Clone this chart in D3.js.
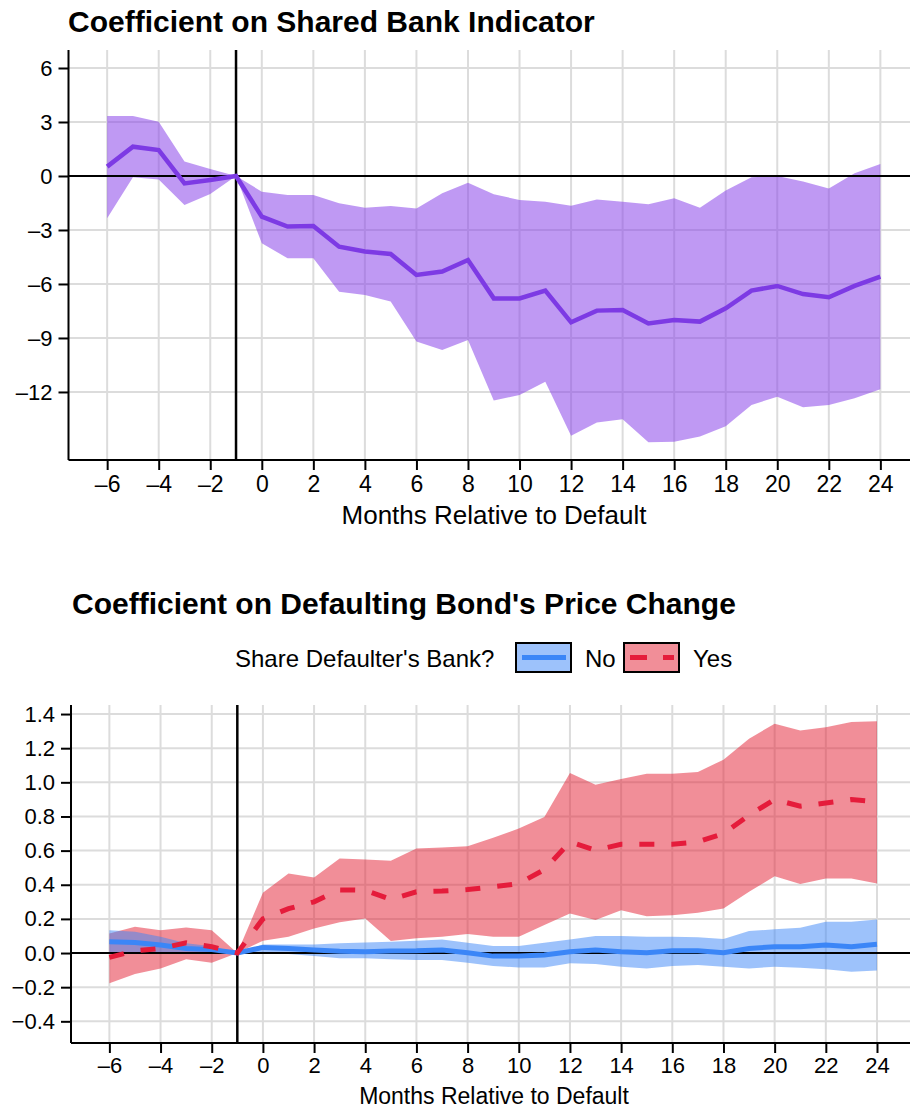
<!DOCTYPE html>
<html>
<head>
<meta charset="utf-8">
<script src="https://cdn.jsdelivr.net/npm/d3@7/dist/d3.min.js"></script>
<style>
  body { margin: 0; background: #fff; }
  svg { display: block; font-family: "Liberation Sans", Arial, sans-serif; }
</style>
</head>
<body>
<svg id="chart" width="910" height="1109"></svg>
<script>
// Months relative to default (x categories)
const months = [-6, -5, -4, -3, -2, -1, 0, 1, 2, 3, 4, 5, 6, 7, 8, 9, 10, 11, 12,
  13, 14, 15, 16, 17, 18, 19, 20, 21, 22, 23, 24];
const xTicks = [-6, -4, -2, 0, 2, 4, 6, 8, 10, 12, 14, 16, 18, 20, 22, 24];

// Panel 1: coefficient on shared bank indicator
const sharedEst = [0.52, 1.63, 1.44, -0.41, -0.22, 0, -2.26, -2.81, -2.78, -3.93, -4.2,
  -4.33, -5.5, -5.31, -4.67, -6.8, -6.8, -6.37, -8.13, -7.48, -7.44, -8.19, -8.0,
  -8.09, -7.35, -6.37, -6.11, -6.56, -6.74, -6.11, -5.59];
const sharedHi = [3.33, 3.33, 3.02, 0.8, 0.39, 0, -0.87, -1.06, -1.06, -1.52, -1.76,
  -1.67, -1.8, -0.96, -0.37, -1.02, -1.33, -1.43, -1.65, -1.3, -1.43, -1.57, -1.24,
  -1.76, -0.81, -0.07, 0.0, -0.31, -0.69, 0.15, 0.67];
const sharedLo = [-2.35, -0.07, -0.19, -1.61, -1.0, 0, -3.74, -4.57, -4.57, -6.43, -6.61,
  -6.98, -9.2, -9.67, -9.11, -12.48, -12.17, -11.43, -14.43, -13.7, -13.52, -14.8,
  -14.76, -14.48, -13.9, -12.72, -12.26, -12.85, -12.72, -12.35, -11.85];
const sharedTicks = [6, 3, 0, -3, -6, -9, -12];

// Panel 2: coefficient on defaulting bond's price change, by shared bank
const noEst = [0.066, 0.062, 0.047, 0.027, 0.02, 0, 0.033, 0.027, 0.018, 0.01, 0.008,
  0.012, 0.013, 0.018, 0.002, -0.018, -0.018, -0.012, 0.008, 0.018, 0.008, 0.002,
  0.013, 0.013, 0.002, 0.027, 0.037, 0.037, 0.047, 0.037, 0.051];
const noHi = [0.134, 0.125, 0.095, 0.057, 0.04, 0, 0.05, 0.05, 0.05, 0.057, 0.062,
  0.066, 0.072, 0.08, 0.06, 0.041, 0.041, 0.06, 0.08, 0.1, 0.1, 0.095, 0.095,
  0.092, 0.082, 0.129, 0.139, 0.148, 0.183, 0.183, 0.197];
const noLo = [0.0, 0.0, 0.0, -0.005, 0.0, 0, 0.0, -0.005, -0.018, -0.031, -0.031,
  -0.037, -0.041, -0.041, -0.057, -0.076, -0.084, -0.084, -0.06, -0.064, -0.08,
  -0.09, -0.076, -0.07, -0.08, -0.09, -0.08, -0.086, -0.095, -0.109, -0.103];
const yesEst = [-0.025, 0.013, 0.027, 0.06, 0.037, 0, 0.2, 0.26, 0.3, 0.37, 0.368,
  0.314, 0.359, 0.363, 0.372, 0.388, 0.407, 0.489, 0.651, 0.602, 0.637, 0.637,
  0.637, 0.651, 0.7, 0.807, 0.9, 0.86, 0.879, 0.899, 0.885];
const yesHi = [0.115, 0.154, 0.134, 0.15, 0.134, 0, 0.353, 0.466, 0.443, 0.554, 0.548,
  0.54, 0.612, 0.618, 0.626, 0.676, 0.729, 0.797, 1.054, 0.986, 1.02, 1.05, 1.05,
  1.06, 1.133, 1.256, 1.343, 1.304, 1.323, 1.353, 1.358];
const yesLo = [-0.177, -0.123, -0.09, -0.037, -0.057, 0, 0.072, 0.095, 0.144, 0.18,
  0.203, 0.07, 0.086, 0.095, 0.111, 0.095, 0.095, 0.164, 0.232, 0.193, 0.251, 0.216,
  0.222, 0.236, 0.261, 0.359, 0.45, 0.404, 0.437, 0.437, 0.408];
const priceTicks = [1.4, 1.2, 1.0, 0.8, 0.6, 0.4, 0.2, 0.0, -0.2, -0.4];

const legendLabels = ['No', 'Yes'];

const colors = {
  purpleLine: '#7d3ae4',
  purpleBand: 'rgba(139, 69, 234, 0.55)',
  blueLine: '#3b86f7',
  blueBand: 'rgba(59, 134, 247, 0.5)',
  redLine: '#e51c3b',
  redBand: 'rgba(228, 30, 50, 0.5)',
  grid: '#dcdcdc'
};

const svg = d3.select('#chart');
const minus = s => String(s).replace('-', '\u2013');

/**
 * Draw a panel frame: grid, axes, reference lines. Returns scales + layers.
 */
function drawFrame(cfg) {
  const x = d3.scaleLinear().domain([-7.5, cfg.xMax]).range([cfg.left, 910]);
  const y = d3.scaleLinear().domain(cfg.yDomain).range([cfg.bottom, cfg.top]);
  const g = svg.append('g');

  // gridlines
  g.selectAll('.vgrid').data(xTicks).enter().append('line')
    .attr('x1', d => x(d)).attr('x2', d => x(d))
    .attr('y1', cfg.top).attr('y2', cfg.bottom)
    .style('stroke', colors.grid).style('stroke-width', '2px');
  g.selectAll('.hgrid').data(cfg.yTicks.filter(d => d !== 0)).enter().append('line')
    .attr('x1', cfg.left).attr('x2', 910)
    .attr('y1', d => y(d)).attr('y2', d => y(d))
    .style('stroke', colors.grid).style('stroke-width', '2px');

  const layer = g.append('g');

  // zero line and default month marker
  g.append('line')
    .attr('x1', cfg.left).attr('x2', 910)
    .attr('y1', y(0)).attr('y2', y(0))
    .style('stroke', '#000').style('stroke-width', '2px');
  g.append('line')
    .attr('x1', x(-1)).attr('x2', x(-1))
    .attr('y1', cfg.top).attr('y2', cfg.bottom)
    .style('stroke', '#000').style('stroke-width', '2.5px');

  const lineLayer = g.append('g');

  // axes
  const xAxis = g.append('g')
    .attr('transform', `translate(0,${cfg.bottom})`)
    .call(d3.axisBottom(x).tickValues(xTicks).tickSize(10).tickPadding(cfg.xPad)
      .tickFormat(d => minus(d)).tickSizeOuter(0));
  const yAxis = g.append('g')
    .attr('transform', `translate(${cfg.left},0)`)
    .call(d3.axisLeft(y).tickValues(cfg.yTicks).tickSize(10).tickPadding(6)
      .tickFormat(d => minus(cfg.fmt(d))).tickSizeOuter(0));
  [xAxis, yAxis].forEach(a => {
    a.select('.domain').style('stroke', '#000').style('stroke-width', '2px');
    a.selectAll('.tick line').style('stroke', '#000').style('stroke-width', '2px');
    a.selectAll('.tick text').style('fill', '#000')
      .style('font-family', '"Liberation Sans", Arial, sans-serif');
  });
  xAxis.selectAll('.tick text').style('font-size', cfg.xFont);
  yAxis.selectAll('.tick text').style('font-size', '22px');
  // axis lines span the whole plot box
  yAxis.select('.domain').attr('d', `M0,${cfg.top}V${cfg.bottom}`);
  xAxis.select('.domain').attr('d', `M${cfg.left},0H910`);

  g.append('text')
    .attr('x', 494).attr('y', cfg.bottom + cfg.labelOffset)
    .attr('text-anchor', 'middle')
    .style('font-size', cfg.labelFont)
    .text('Months Relative to Default');

  g.append('text')
    .attr('x', cfg.titleX).attr('y', cfg.titleY)
    .style('font-size', '30px').style('font-weight', 'bold')
    .text(cfg.title);

  return { x, y, layer, lineLayer };
}

function drawBand(p, layer, hi, lo, fill) {
  const area = d3.area()
    .x((d, i) => p.x(months[i]))
    .y0((d, i) => p.y(lo[i]))
    .y1((d, i) => p.y(hi[i]));
  layer.append('path').datum(hi).attr('d', area).style('fill', fill);
}

function drawLine(p, layer, est, color, width, dash) {
  const line = d3.line()
    .x((d, i) => p.x(months[i]))
    .y(d => p.y(d));
  layer.append('path').datum(est).attr('d', line)
    .style('fill', 'none').style('stroke', color)
    .style('stroke-width', width)
    .style('stroke-dasharray', dash || null);
}

// ---- Panel 1 ----
const p1 = drawFrame({
  left: 68.5, top: 50, bottom: 460, xMax: 25.15,
  xFont: '23px', xPad: 6, labelFont: '26px', labelOffset: 64,
  yDomain: [-15.78, 7], yTicks: sharedTicks, fmt: d => d,
  title: 'Coefficient on Shared Bank Indicator', titleX: 68, titleY: 32
});
drawBand(p1, p1.layer, sharedHi, sharedLo, colors.purpleBand);
drawLine(p1, p1.lineLayer, sharedEst, colors.purpleLine, '4.5px');

// ---- Panel 2 ----
const p2 = drawFrame({
  left: 71, top: 705, bottom: 1043, xMax: 25.29,
  xFont: '22px', xPad: 4, labelFont: '23px', labelOffset: 60.5,
  yDomain: [-0.527, 1.453], yTicks: priceTicks, fmt: d => d3.format('.1f')(d),
  title: "Coefficient on Defaulting Bond's Price Change", titleX: 72, titleY: 614
});
drawBand(p2, p2.layer, yesHi, yesLo, colors.redBand);
drawBand(p2, p2.layer, noHi, noLo, colors.blueBand);
drawLine(p2, p2.lineLayer, noEst, colors.blueLine, '5px');
drawLine(p2, p2.lineLayer, yesEst, colors.redLine, '5px', '15,17');

// ---- Legend ----
const legend = svg.append('g');
legend.append('text')
  .attr('x', 235).attr('y', 667)
  .style('font-size', '24px')
  .text("Share Defaulter's Bank?");
const legendItems = [
  { label: legendLabels[0], x: 516, band: colors.blueBand, line: colors.blueLine, dash: null },
  { label: legendLabels[1], x: 624, band: colors.redBand, line: colors.redLine, dash: '17,16' }
];
legendItems.forEach(it => {
  legend.append('rect')
    .attr('x', it.x).attr('y', 643).attr('width', 55).attr('height', 29)
    .style('fill', it.band).style('stroke', '#000').style('stroke-width', '2px');
  legend.append('line')
    .attr('x1', it.x + 6).attr('x2', it.x + 50)
    .attr('y1', 657.5).attr('y2', 657.5)
    .style('stroke', it.line).style('stroke-width', '5px')
    .style('stroke-dasharray', it.dash);
  legend.append('text')
    .attr('x', it.x + 69).attr('y', 667)
    .style('font-size', '24px')
    .text(it.label);
});
</script>
</body>
</html>
